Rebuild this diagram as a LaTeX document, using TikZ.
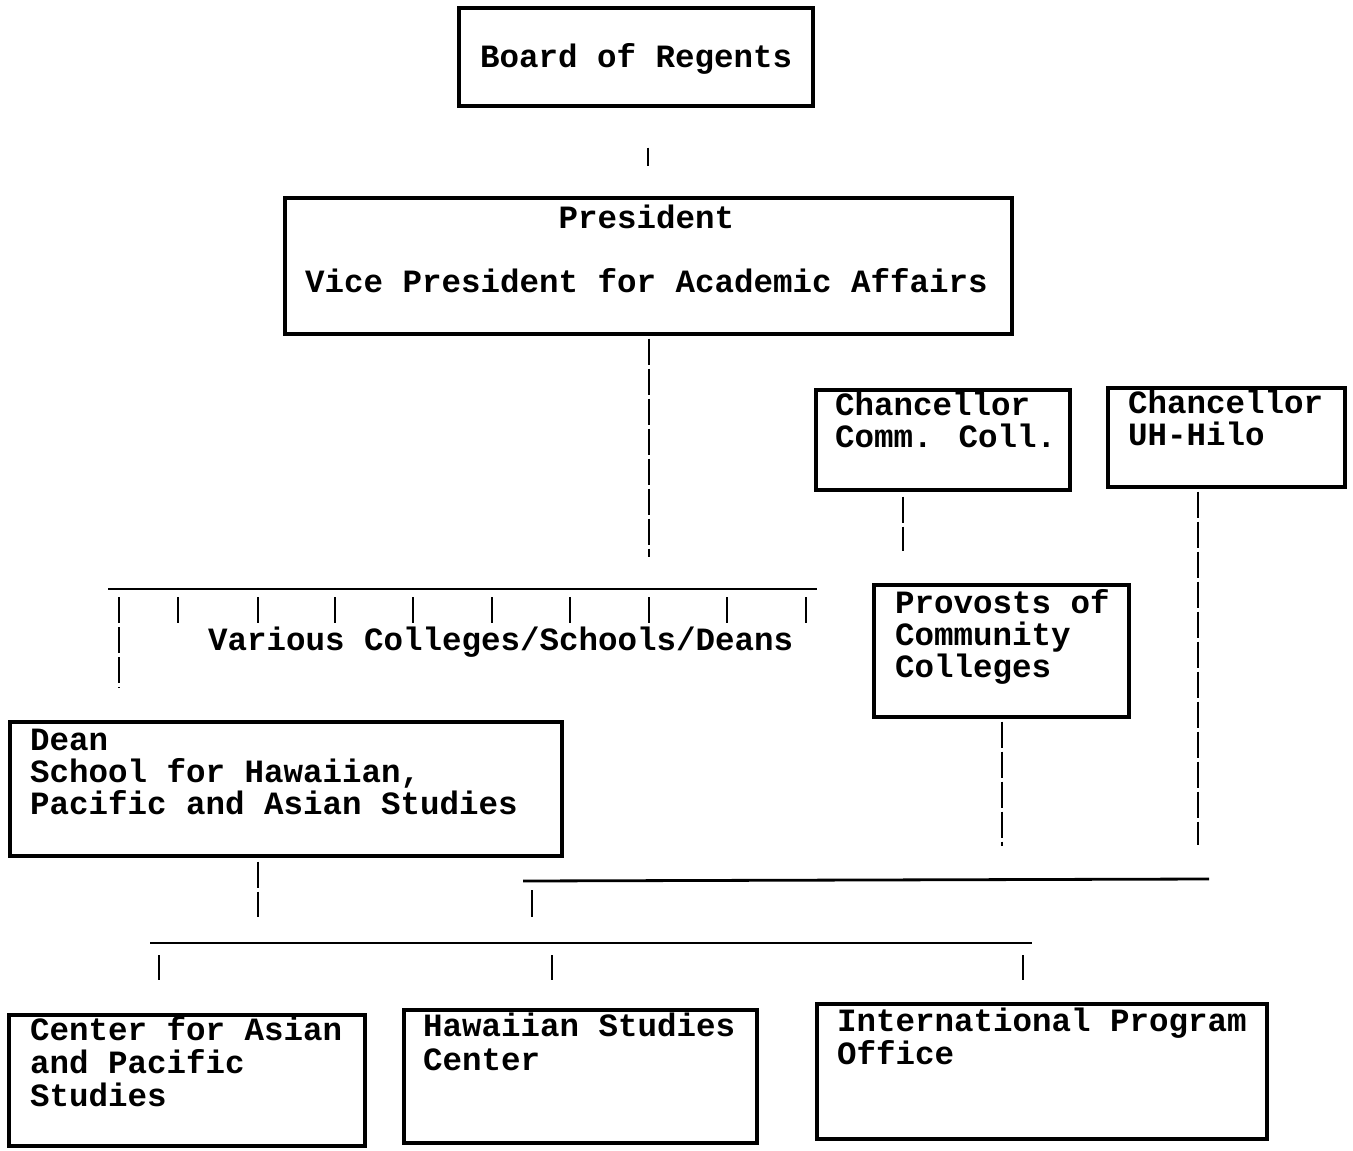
\documentclass[tikz,border=0pt]{standalone}
\usepackage{fontspec}
\setmainfont{Liberation Mono}
\usetikzlibrary{calc}

\tikzset{
	box/.style = {draw, line width = 3.2pt, inner sep = 0pt},
	txt/.style = {anchor = base west, inner sep = 0pt, align = left,
		font = \bfseries\fontsize{32.5}{32}\selectfont},
	link/.style = {line width = 2.8pt},
	dashlink/.style = {line width = 2.6pt, dash pattern = on 26pt off 4pt}
}

\begin{document}
\begin{tikzpicture}[x = 1pt, y = -1pt]
	\useasboundingbox (0,0) rectangle (1353,1151);

	% boxes
	\node[box, minimum width = 354, minimum height = 98]  (regents)   at (636,57)      {};
	\node[box, minimum width = 727, minimum height = 136] (president) at (648.5,266)   {};
	\node[box, minimum width = 254, minimum height = 100] (commcoll)  at (943,440)     {};
	\node[box, minimum width = 237, minimum height = 99]  (hilo)      at (1226.5,437.5) {};
	\node[box, minimum width = 255, minimum height = 132] (provosts)  at (1001.5,651)  {};
	\node[box, minimum width = 552, minimum height = 134] (dean)      at (286,789)     {};
	\node[box, minimum width = 356, minimum height = 131] (asian)     at (187,1080.5)  {};
	\node[box, minimum width = 353, minimum height = 133] (hawaii)    at (580.5,1076.5) {};
	\node[box, minimum width = 450, minimum height = 135] (intl)      at (1042,1071.5) {};

	% texts (base = last line)
	\node[txt] (regents-t)   at (480,67)   {Board of Regents};
	\node[txt, align = center] (president-t) at (305,292)
		{President\\[32pt]Vice President for Academic Affairs};
	\node[txt] (commcoll-t)  at (835,447)  {Chancellor\\Comm. Coll.};
	\node[txt] (hilo-t)      at (1128,445) {Chancellor\\UH-Hilo};
	\node[txt] (provosts-t)  at (895,677)  {Provosts of\\Community\\Colleges};
	\node[txt] (various-t)   at (208,650)  {Various Colleges/Schools/Deans};
	\node[txt] (dean-t)      at (30,814)   {Dean\\School for Hawaiian,\\Pacific and Asian Studies};
	\node[txt, font = \bfseries\fontsize{32.5}{33}\selectfont] (asian-t) at (30,1106)
		{Center for Asian\\and Pacific\\Studies};
	\node[txt, font = \bfseries\fontsize{32.5}{34}\selectfont] (hawaii-t) at (423,1070)
		{Hawaiian Studies\\Center};
	\node[txt, font = \bfseries\fontsize{32.5}{33}\selectfont] (intl-t) at (837,1064)
		{International Program\\Office};

	% bus lines
	\coordinate (colleges-w) at (108,589);
	\coordinate (colleges-e) at (817,589);
	\coordinate (centers-w)  at (150,943);
	\coordinate (centers-e)  at (1032,943);
	\coordinate (system-w)   at (523,881);
	\coordinate (system-e)   at (1209,879);
	\draw[link] (colleges-w) -- (colleges-e);
	\draw[link] (centers-w) -- (centers-e);
	\draw[link] (system-w) -- (system-e);

	% top of the chart
	\draw[link, shorten <= 40pt, shorten >= 30pt] (regents.south -| 648,0) -- (president.north -| 648,0);
	\draw[dashlink, shorten <= 3pt, shorten >= 32pt] (president.south -| 649,0) -- (colleges-w -| 649,0);

	% colleges
	\foreach \x in {178, 258, 335, 413, 492, 570, 649, 727, 806}
		{\draw[link, shorten <= 8pt] (colleges-w -| \x,0) -- (\x,623);}
	\draw[dashlink, shorten <= 8pt, shorten >= 32pt] (colleges-w -| 119,0) -- (dean.north -| 119,0);
	\draw[dashlink, shorten <= 4pt, shorten >= 26pt] (dean.south -| 258,0) -- (centers-w -| 258,0);

	% chancellors
	\draw[dashlink, shorten <= 5pt, shorten >= 32pt] (commcoll.south -| 903,0) -- (provosts.north -| 903,0);
	\draw[dashlink, shorten <= 3pt, shorten >= 35pt] (provosts.south -| 1002,0) -- (system-w -| 1002,0);
	\draw[dashlink, shorten <= 3pt, shorten >= 36pt] (hilo.south -| 1198,0) -- (system-w -| 1198,0);
	\draw[link, shorten <= 9pt, shorten >= 26pt] (system-w -| 532,0) -- (centers-w -| 532,0);

	% centers
	\draw[link, shorten <= 12pt, shorten >= 33pt] (centers-w -| 159,0) -- (asian.north -| 159,0);
	\draw[link, shorten <= 12pt, shorten >= 28pt] (centers-w -| 552,0) -- (hawaii.north -| 552,0);
	\draw[link, shorten <= 12pt, shorten >= 22pt] (centers-w -| 1023,0) -- (intl.north -| 1023,0);

\end{tikzpicture}
\end{document}
